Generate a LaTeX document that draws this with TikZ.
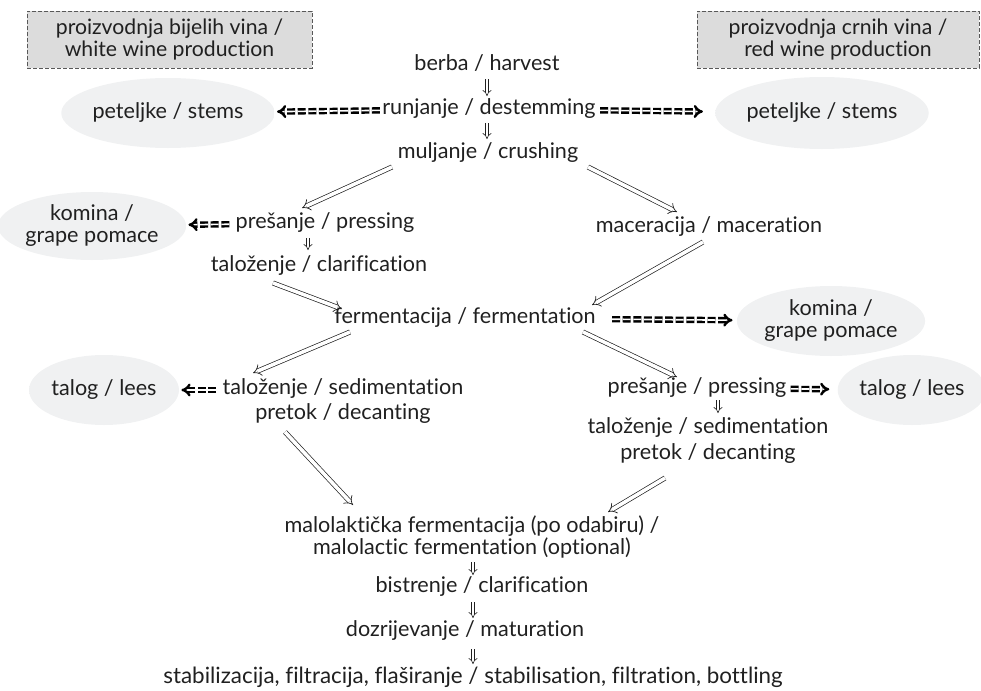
\documentclass[tikz,border=0pt]{standalone}
\usepackage{fontspec}
\setmainfont{Lato}[Ligatures=NoCommon]
\usepackage{tikz}
\usetikzlibrary{shapes.geometric,arrows.meta}
\definecolor{boxgray}{HTML}{DCDCDC}
\definecolor{ellgray}{HTML}{F0F1F2}
\definecolor{ink}{HTML}{202020}
\pgfdeclareradialshading{halo}{\pgfpoint{0bp}{0bp}}{color(0bp)=(ellgray); color(30bp)=(ellgray); color(50bp)=(white); color(72bp)=(white)}
\tikzstyle{stage} = [inner sep=0pt,align=center,text=ink,font=\fontsize{10.8}{11}\selectfont]
\tikzstyle{waste} = [ellipse,shade,shading=halo,inner sep=0pt,align=center,text=ink,font=\fontsize{10.8}{11}\selectfont]
\tikzstyle{banner} = [draw=ink!75,fill=boxgray,dash pattern=on 2pt off 1pt,line width=0.4pt,align=center,text=ink,font=\fontsize{10.6}{8.8}\selectfont]
\tikzstyle{flow} = [draw=ink,line width=0.35pt,double=white,double distance=1.8pt,-{Implies[scale=1.6]}]
\tikzstyle{down} = [draw=ink,line width=0.3pt,double=white,double distance=1.3pt,-{Implies[scale=1.7]}]
\tikzstyle{byprod} = [draw=black,line width=1.2pt,double=white,double distance=0.8pt,dash pattern=on 4pt off 1.3pt,-{Implies[scale=1.2]}]
\def \gap {1pt}

\begin{document}
\begin{tikzpicture}[x=0.5pt,y=-0.5pt]
  \useasboundingbox (0,0) rectangle (981,691);
  % headers
  \node[banner,minimum width=142.5pt,minimum height=28.5pt] (white) at (169.5,39.5) {proizvodnja bijelih vina /\\ white wine production};
  \node[banner,minimum width=141pt,minimum height=28.5pt] (red) at (838,39.5) {proizvodnja crnih vina /\\ red wine production};
  % by-products
  \node[waste,minimum width=90pt,minimum height=35pt] (stemsL) at (168,113) {peteljke / stems};
  \node[waste,minimum width=89pt,minimum height=36pt] (stemsR) at (822,113) {peteljke / stems};
  \node[waste,minimum width=87pt,minimum height=34pt] (pomL) at (92,226) {komina /\\ grape pomace};
  \node[waste,minimum width=88pt,minimum height=35pt] (pomR) at (831,321) {komina /\\ grape pomace};
  \node[waste,minimum width=75pt,minimum height=35pt] (leesL) at (104,390) {talog / lees};
  \node[waste,minimum width=72pt,minimum height=35pt] (leesR) at (912,390) {talog / lees};
  % process steps
  \node[stage] (berba) at (487,63) {berba / harvest};
  \node[stage] (runj) at (489,109) {runjanje / destemming};
  \node[stage] (mulj) at (488,153) {muljanje / crushing};
  \node[stage] (presL) at (325,223) {prešanje / pressing};
  \node[stage] (talozL) at (319,266) {taloženje / clarification};
  \node[stage] (macer) at (709,227) {maceracija / maceration};
  \node[stage] (ferm) at (465,318) {fermentacija / fermentation};
  \node[stage] (sedimL) at (343,401) {taloženje / sedimentation\\[1.5pt] pretok / decanting};
  \node[stage] (presR) at (697,388) {prešanje / pressing};
  \node[stage] (sedimR) at (708,441) {taloženje / sedimentation\\[2pt] pretok / decanting};
  \node[stage] (malo) at (472,537) {malolaktička fermentacija (po odabiru) /\\ malolactic fermentation (optional)};
  \node[stage] (bistr) at (482,587) {bistrenje / clarification};
  \node[stage] (dozr) at (465,631) {dozrijevanje / maturation};
  \node[stage,font=\fontsize{11.2}{11}\selectfont] (stab) at (473,677) {stabilizacija, filtracija, flaširanje / stabilisation, filtration, bottling};
  % small steps
  \draw[down] ([shift={(0,16)}]berba.center) -- ([shift={(-2,-13)}]runj.center);
  \draw[down] ([shift={(-2,14)}]runj.center) -- ([shift={(-1,-14)}]mulj.center);
  \draw[down] ([shift={(-17,15)}]presL.center) -- ([shift={(-11,-16)}]talozL.center);
  \draw[down] ([shift={(21,12)}]presR.center) -- ([shift={(10,-28)}]sedimR.center);
  \draw[down] ([shift={(1,25)}]malo.center) -- ([shift={(-9,-12)}]bistr.center);
  \draw[down] ([shift={(-9,15)}]bistr.center) -- ([shift={(8,-13)}]dozr.center);
  \draw[down] ([shift={(8,18)}]dozr.center) -- ([shift={(0,-13)}]stab.center);
  % branches
  \draw[flow] ([shift={(-96,14)}]mulj.center) -- ([shift={(-23,-15)}]presL.center);
  \draw[flow] ([shift={(100,14)}]mulj.center) -- ([shift={(-32,-15)}]macer.center);
  \draw[flow] ([shift={(-46,17)}]talozL.center) -- ([shift={(-123,-9)}]ferm.center);
  \draw[flow] ([shift={(-6,15)}]macer.center) -- ([shift={(127,-13)}]ferm.center);
  \draw[flow] ([shift={(-115,14)}]ferm.center) -- ([shift={(-90,-28)}]sedimL.center);
  \draw[flow] ([shift={(118,14)}]ferm.center) -- ([shift={(-20,-11)}]presR.center);
  \draw[flow] ([shift={(-58,31)}]sedimL.center) -- ([shift={(-119,-32)}]malo.center);
  \draw[flow] ([shift={(-43,37)}]sedimR.center) -- ([shift={(136,-25)}]malo.center);
  % by-product outlets
  \draw[byprod,shorten <=\gap,shorten >=\gap] (runj) -- (stemsL);
  \draw[byprod,shorten <=2pt,shorten >=6pt] (runj) -- (stemsR);
  \draw[byprod,shorten <=3pt,shorten >=\gap] (presL) -- (pomL);
  \draw[byprod,shorten <=8pt,shorten >=2pt] (ferm) -- (pomR);
  \draw[byprod,shorten <=3pt,shorten >=\gap] (sedimL.west |- leesL.east) -- (leesL);
  \draw[byprod,shorten <=2pt,shorten >=4pt] (presR) -- (leesR);
\end{tikzpicture}
\end{document}
